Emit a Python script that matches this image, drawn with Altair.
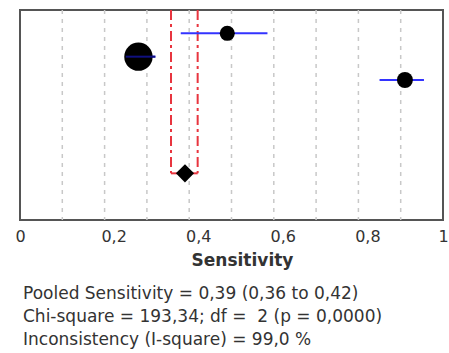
import altair as alt
import pandas as pd

# ---- data ----
study_labels = ["Study 1", "Study 2", "Study 3"]
study_rows = [1, 2, 3]
sens = [0.49, 0.28, 0.91]
ci_low = [0.38, 0.25, 0.85]
ci_high = [0.585, 0.32, 0.955]
weights = [17.7, 62.6, 19.8]

pooled_row = [7]
pooled_est = [0.39]
pooled_low = [0.357]
pooled_high = [0.42]

grid_values = [0.1, 0.2, 0.3, 0.4, 0.5, 0.6, 0.7, 0.8, 0.9]
tick_values = [0, 0.2, 0.4, 0.6, 0.8, 1]
tick_labels = ["0", "0,2", "0,4", "0,6", "0,8", "1"]

notes = [
    "Pooled Sensitivity = 0,39 (0,36 to 0,42)",
    "Chi-square = 193,34; df = \u00a02 (p = 0,0000)",
    "Inconsistency (I-square) = 99,0 %",
]

FONT = "DejaVu Sans"

studies = pd.DataFrame({"study": study_labels, "row": study_rows, "sens": sens,
                        "lo": ci_low, "hi": ci_high, "w": weights})
pooled = pd.DataFrame({"row": pooled_row, "est": pooled_est,
                       "lo": pooled_low, "hi": pooled_high})
red = pd.DataFrame({"v": pooled_low + pooled_high, "top": [0, 0],
                    "bottom": pooled_row * 2})
grid = pd.DataFrame({"g": grid_values})

label_expr = "[" + ",".join("'%s'" % t for t in tick_labels) + "][round(datum.value*5)]"

xscale = alt.Scale(domain=[0, 1], nice=False, zero=False)
yscale = alt.Scale(domain=[0, 9], reverse=True, nice=False, zero=False)

xaxis = alt.Axis(
    values=tick_values, labelExpr=label_expr, grid=False, ticks=False, domain=False,
    labelFont=FONT, labelFontSize=16, labelColor="#333333", labelPadding=8,
    labelFlush=False,
    labelOffset={"condition": {"test": "datum.value > 0 && datum.value < 1", "value": 9}, "value": 0},
    title="Sensitivity", titleFont=FONT, titleFontSize=17, titleFontWeight="bold",
    titleColor="#333333", titleX=222, titleY=45, titleBaseline="alphabetic",
    titleAlign="center", titleAnchor="middle",
)

def X(field):
    return alt.X(field, type="quantitative", scale=xscale, axis=xaxis)

def Y(field):
    return alt.Y(field, type="quantitative", scale=yscale, axis=None)

grid_layer = alt.Chart(grid).mark_rule(color="#c8c8c8", strokeWidth=1.5, strokeDash=[4, 5]).encode(
    x=X("g")
)

red_v = alt.Chart(red).mark_rule(color="#e8353f", strokeWidth=2, strokeDash=[10, 4, 3, 4]).encode(
    x=X("v"), y=Y("top"), y2="bottom"
)
red_h = alt.Chart(pooled).mark_rule(color="#e8353f", strokeWidth=2).encode(
    x=X("lo"), x2="hi", y=Y("row")
)

ci = alt.Chart(studies).mark_rule(color="#3333ff", strokeWidth=2).encode(
    x=X("lo"), x2="hi", y=Y("row")
)
dots = alt.Chart(studies).mark_circle(color="black", opacity=1).encode(
    x=X("sens"), y=Y("row"),
    size=alt.Size("w:Q", scale=alt.Scale(domain=[0, 100], range=[0, 1285]), legend=None),
)
ci_over = alt.Chart(studies).transform_filter("datum.w > 50").mark_rule(
    color="#101080", strokeWidth=2).encode(x=X("lo"), x2="hi", y=Y("row"))

diamond = alt.Chart(pooled).mark_point(shape="diamond", filled=True, color="black",
                                       opacity=1, size=330).encode(
    x=X("est"), y=Y("row")
)

chart = alt.layer(grid_layer, red_v, red_h, ci, dots, ci_over, diamond).properties(
    width=423, height=210,
    autosize=alt.AutoSizeParams(type="none"),
    padding={"left": 20, "top": 10, "right": 6, "bottom": 133},
    background="white",
    title=alt.TitleParams(
        text=notes, orient="bottom", anchor="start", frame="group",
        font=FONT, fontSize=17, fontWeight="normal", color="#333333",
        lineHeight=23, offset=18, dx=3,
    ),
).configure_view(stroke="#555555", strokeWidth=2)

chart.save("out.html", embed_options={"renderer": "svg", "actions": False})
